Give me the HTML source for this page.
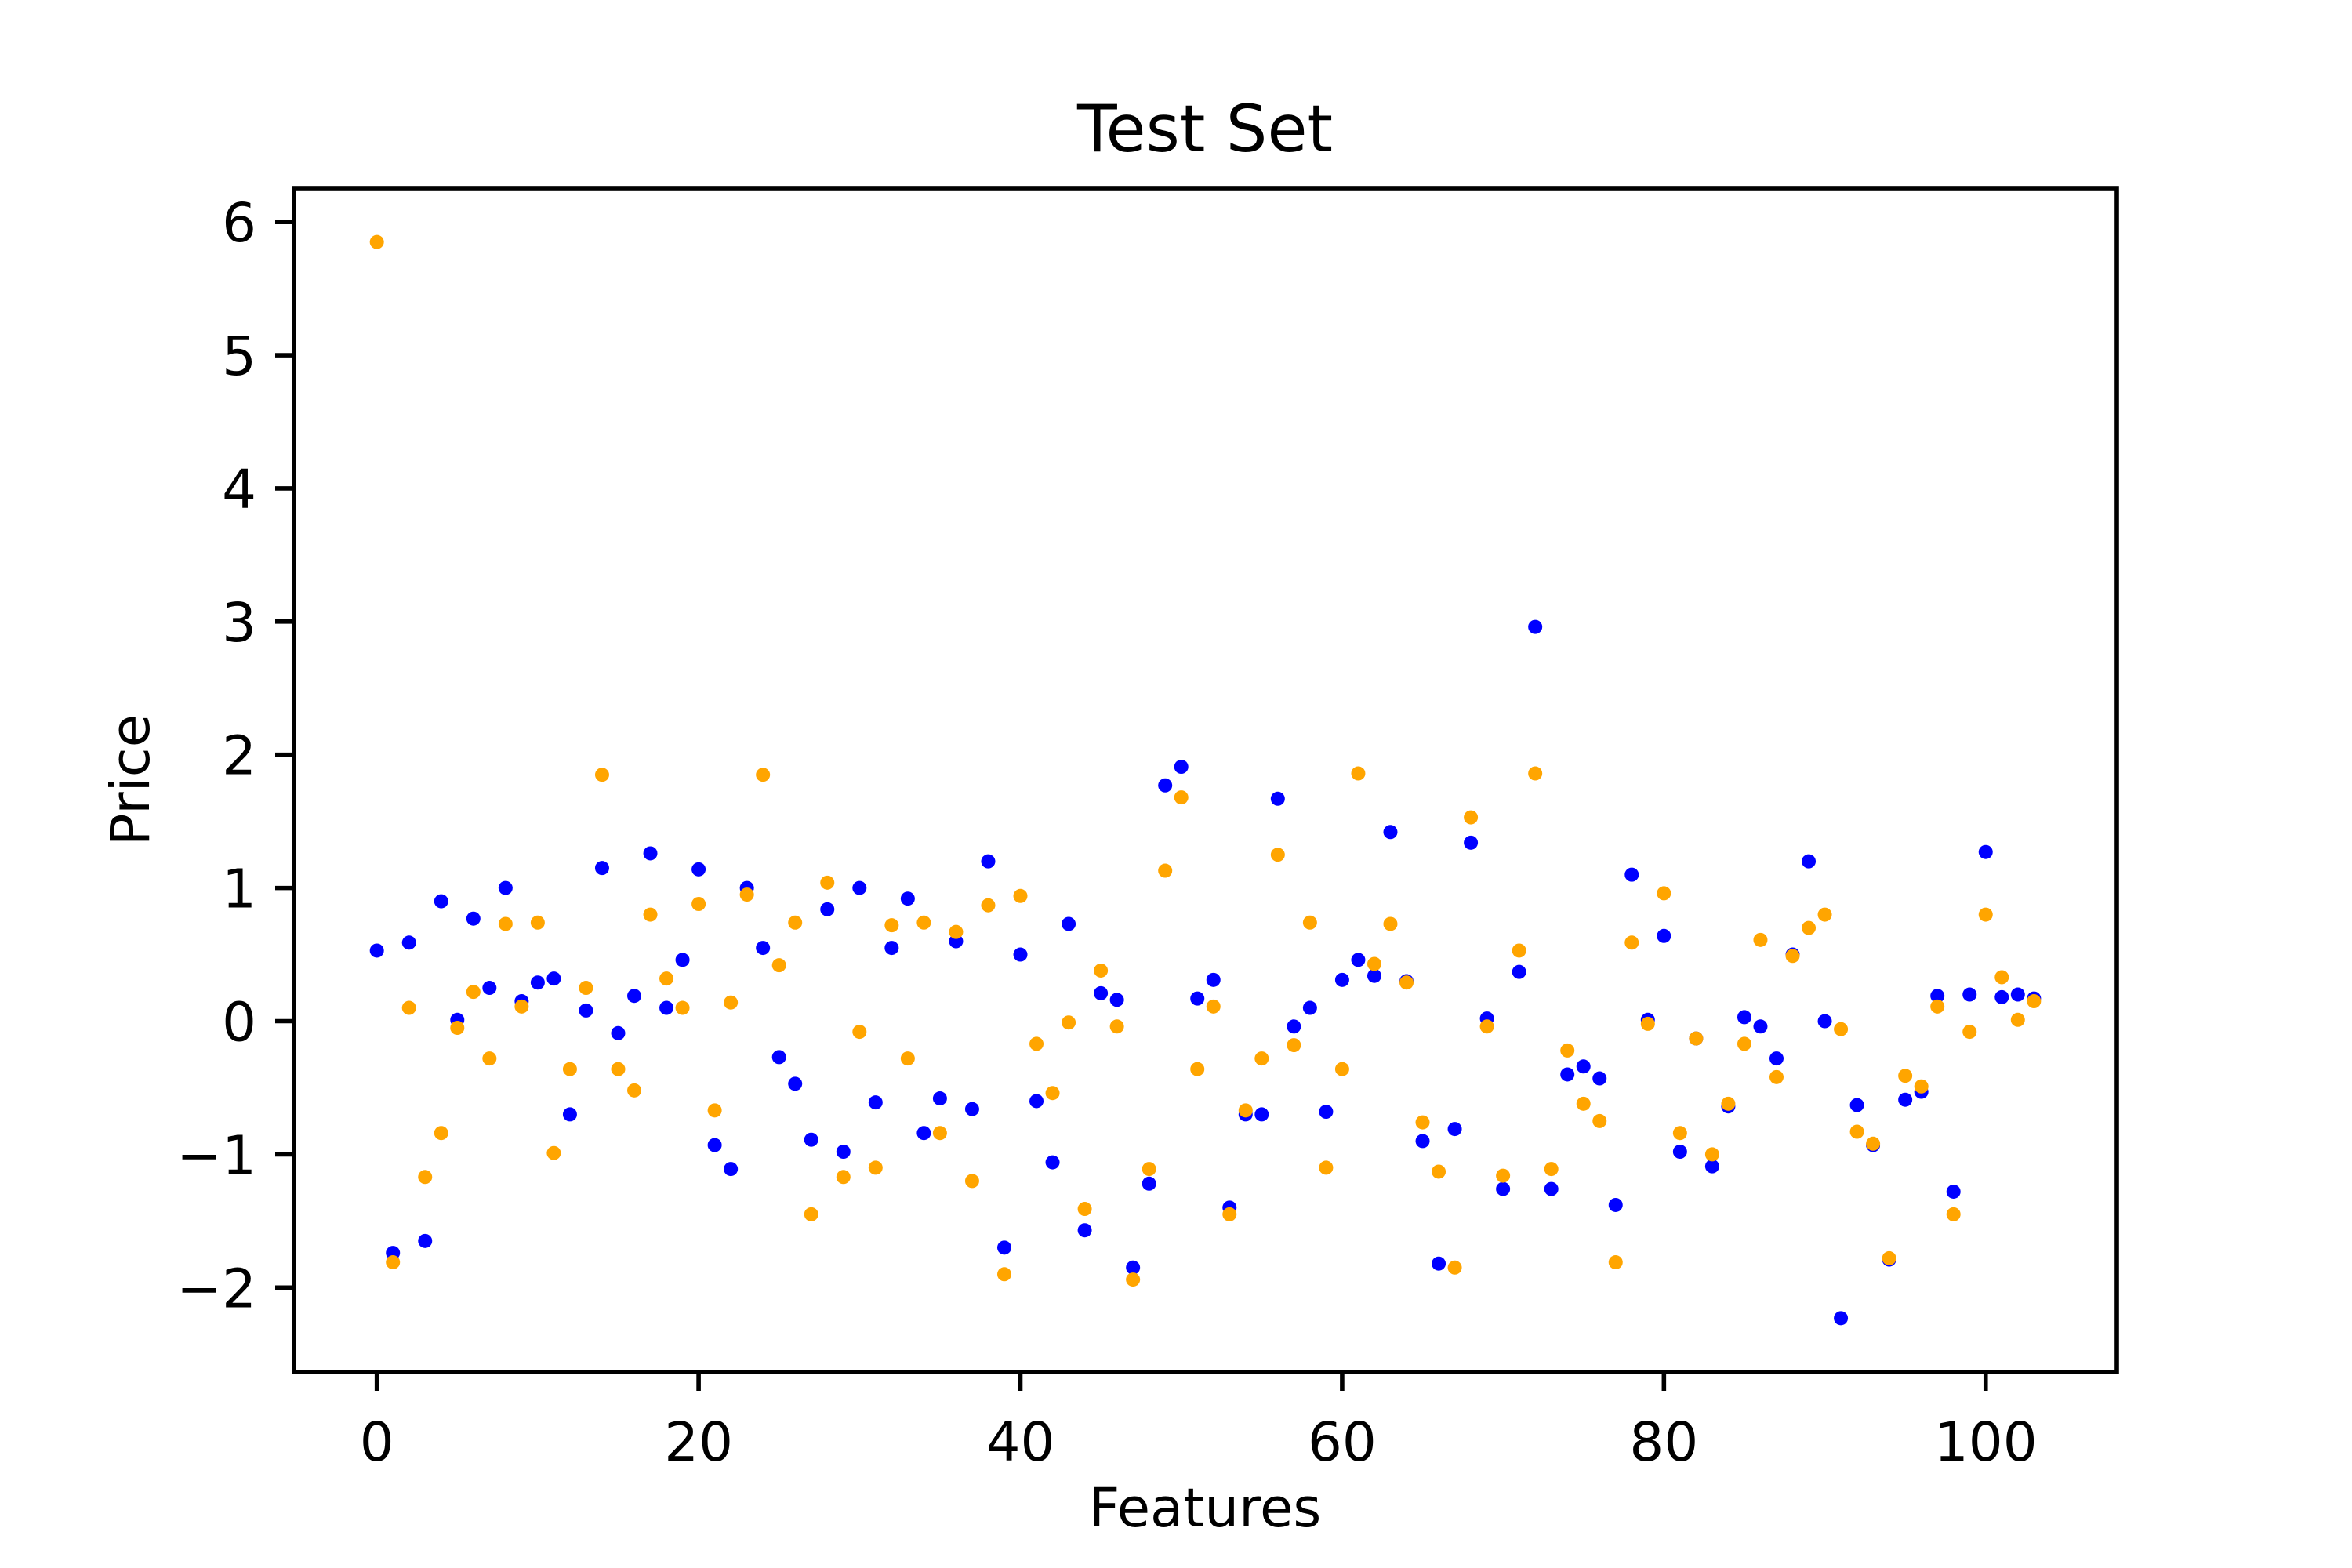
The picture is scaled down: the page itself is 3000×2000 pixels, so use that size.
<!DOCTYPE html>
<html><head><meta charset="utf-8"><style>
html,body{margin:0;padding:0;background:#fff;}
svg{display:block;font-family:"DejaVu Sans","Liberation Sans",sans-serif;}
</style></head><body>
<svg id="chart" width="3000" height="2000" viewBox="0 0 3000 2000" xmlns="http://www.w3.org/2000/svg">
<rect x="0" y="0" width="3000" height="2000" fill="#fff"/>
<text x="1537" y="193" font-size="83" text-anchor="middle">Test Set</text>
<text x="1537" y="1947" font-size="69" text-anchor="middle">Features</text>
<text x="0" y="0" font-size="69" text-anchor="middle" transform="translate(190,995) rotate(-90)">Price</text>
<g id="marks"></g>
<g id="axes"></g>
</svg>
<script>
const xTicks = [0, 20, 40, 60, 80, 100];
const yTicks = [-2, -1, 0, 1, 2, 3, 4, 5, 6];
const actualPrice = [0.53,-1.74,0.59,-1.65,0.90,0.01,0.77,0.25,1.00,0.15,0.29,0.32,-0.70,0.08,1.15,-0.09,0.19,1.26,0.10,0.46,1.14,-0.93,-1.11,1.00,0.55,-0.27,-0.47,-0.89,0.84,-0.98,1.00,-0.61,0.55,0.92,-0.84,-0.58,0.60,-0.66,1.20,-1.70,0.50,-0.60,-1.06,0.73,-1.57,0.21,0.16,-1.85,-1.22,1.77,1.91,0.17,0.31,-1.40,-0.70,-0.70,1.67,-0.04,0.10,-0.68,0.31,0.46,0.34,1.42,0.30,-0.90,-1.82,-0.81,1.34,0.02,-1.26,0.37,2.96,-1.26,-0.40,-0.34,-0.43,-1.38,1.10,0.01,0.64,-0.98,-0.13,-1.09,-0.64,0.03,-0.04,-0.28,0.50,1.20,0.00,-2.23,-0.63,-0.93,-1.79,-0.59,-0.53,0.19,-1.28,0.20,1.27,0.18,0.20,0.17];
const predictedPrice = [5.85,-1.81,0.10,-1.17,-0.84,-0.05,0.22,-0.28,0.73,0.11,0.74,-0.99,-0.36,0.25,1.85,-0.36,-0.52,0.80,0.32,0.10,0.88,-0.67,0.14,0.95,1.85,0.42,0.74,-1.45,1.04,-1.17,-0.08,-1.10,0.72,-0.28,0.74,-0.84,0.67,-1.20,0.87,-1.90,0.94,-0.17,-0.54,-0.01,-1.41,0.38,-0.04,-1.94,-1.11,1.13,1.68,-0.36,0.11,-1.45,-0.67,-0.28,1.25,-0.18,0.74,-1.10,-0.36,1.86,0.43,0.73,0.29,-0.76,-1.13,-1.85,1.53,-0.04,-1.16,0.53,1.86,-1.11,-0.22,-0.62,-0.75,-1.81,0.59,-0.02,0.96,-0.84,-0.13,-1.00,-0.62,-0.17,0.61,-0.42,0.49,0.70,0.80,-0.06,-0.83,-0.92,-1.78,-0.41,-0.49,0.11,-1.45,-0.08,0.80,0.33,0.01,0.15];

const L=375,R=2700,T=240,B=1750;
const n=actualPrice.length;
const xmin=0,xmax=n-1,xpad=(xmax-xmin)*0.05;
const all=actualPrice.concat(predictedPrice);
const dmin=Math.min(...all),dmax=Math.max(...all),ypad=(dmax-dmin)*0.05;
function xs(v){return L+(v-(xmin-xpad))/((xmax+xpad)-(xmin-xpad))*(R-L);}
function ys(v){return B-(v-(dmin-ypad))/((dmax+ypad)-(dmin-ypad))*(B-T);}
const NS='http://www.w3.org/2000/svg';
const marks=document.getElementById('marks');
function dots(arr,color,name){
  arr.forEach((v,i)=>{
    const c=document.createElementNS(NS,'circle');
    c.setAttribute('cx',xs(i));c.setAttribute('cy',ys(v));c.setAttribute('r',9);c.setAttribute('fill',color);
    
    
    marks.appendChild(c);
  });
}
dots(actualPrice,'#0000ff','actual-point');
dots(predictedPrice,'#ffa500','predicted-point');
const axes=document.getElementById('axes');
const frame=document.createElementNS(NS,'rect');
frame.setAttribute('x',L);frame.setAttribute('y',T);frame.setAttribute('width',R-L);frame.setAttribute('height',B-T);
frame.setAttribute('fill','none');frame.setAttribute('stroke','#000');frame.setAttribute('stroke-width',5.6);


axes.appendChild(frame);
xTicks.forEach(t=>{
  const x=xs(t);
  const l=document.createElementNS(NS,'line');
  l.setAttribute('x1',x);l.setAttribute('x2',x);l.setAttribute('y1',B);l.setAttribute('y2',B+24);
  l.setAttribute('stroke','#000');l.setAttribute('stroke-width',5.6);
  
  
  axes.appendChild(l);
  const tx=document.createElementNS(NS,'text');
  tx.setAttribute('x',x);tx.setAttribute('y',B+113);tx.setAttribute('font-size',69);tx.setAttribute('text-anchor','middle');
  tx.textContent=String(t);
  
  
  axes.appendChild(tx);
});
yTicks.forEach(t=>{
  const y=ys(t);
  const l=document.createElementNS(NS,'line');
  l.setAttribute('x1',L-24);l.setAttribute('x2',L);l.setAttribute('y1',y);l.setAttribute('y2',y);
  l.setAttribute('stroke','#000');l.setAttribute('stroke-width',5.6);
  
  
  axes.appendChild(l);
  const tx=document.createElementNS(NS,'text');
  tx.setAttribute('x',L-48);tx.setAttribute('y',y+25);tx.setAttribute('font-size',69);tx.setAttribute('text-anchor','end');
  tx.textContent=(t<0?'\u2212'+Math.abs(t):String(t));
  
  
  axes.appendChild(tx);
});
</script>
</body></html>
